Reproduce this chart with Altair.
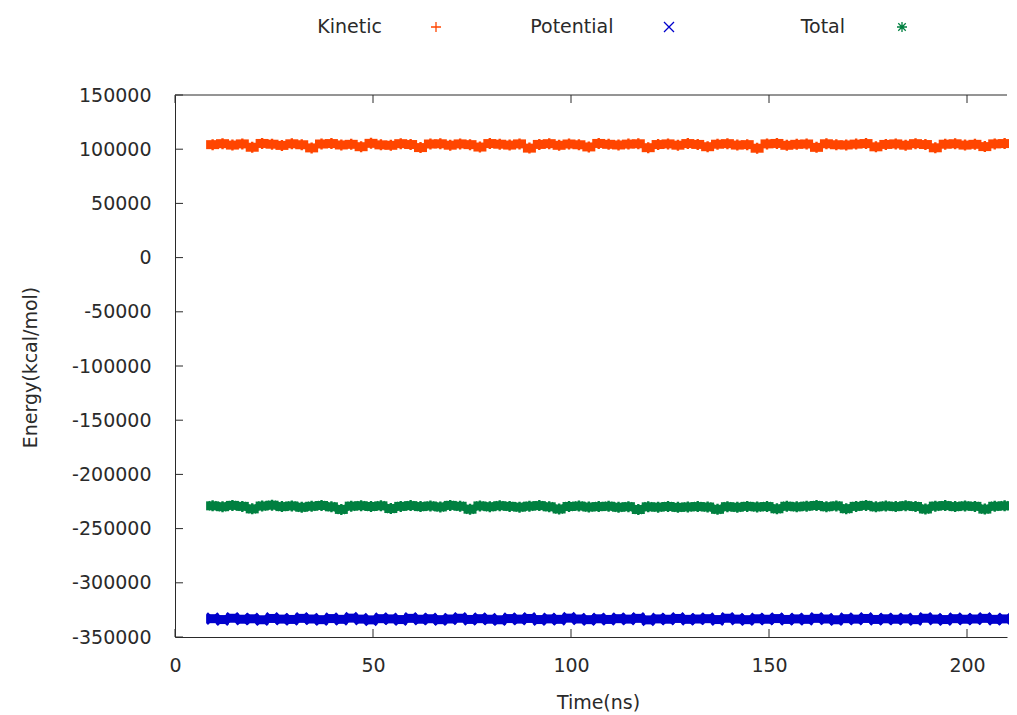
import altair as alt
import pandas as pd

series_names = ["Kinetic", "Potential", "Total"]
series_colors = ["#ff4500", "#0000cc", "#008040"]
plus_path = "M-1,0L1,0M0,-1L0,1"
cross_path = "M-1,-1L1,1M-1,1L1,-1"
star_path = "M-1,0L1,0M0,-1L0,1M-0.75,-0.75L0.75,0.75M-0.75,0.75L0.75,-0.75"

time_ns = [9.5, 12, 14.5, 17, 19.5, 22, 24.5, 27, 29.5, 32, 34.5, 37, 39.5, 42, 44.5, 47, 49.5,
           52, 54.5, 57, 59.5, 62, 64.5, 67, 69.5, 72, 74.5, 77, 79.5, 82, 84.5, 87, 89.5, 92,
           94.5, 97, 99.5, 102, 104.5, 107, 109.5, 112, 114.5, 117, 119.5, 122, 124.5, 127,
           129.5, 132, 134.5, 137, 139.5, 142, 144.5, 147, 149.5, 152, 154.5, 157, 159.5, 162,
           164.5, 167, 169.5, 172, 174.5, 177, 179.5, 182, 184.5, 187, 189.5, 192, 194.5, 197,
           199.5, 202, 204.5, 207, 209.5]

kinetic = [104200, 105100, 103800, 104900, 101800, 105300, 104600, 103500, 105000, 104100,
           101200, 104800, 105200, 103900, 104500, 102300, 105400, 104000, 103600, 105100,
           104300, 101500, 104700, 105000, 103700, 104900, 104200, 102000, 105200, 104600,
           103800, 104900, 101000, 104400, 105100, 103600, 104800, 104100, 102100, 105300,
           104500, 103900, 104700, 105000, 101400, 104300, 104900, 103700, 105200, 104400,
           102300, 104600, 105100, 103800, 104200, 100900, 104900, 105300, 103600, 104500,
           104800, 101700, 105000, 104100, 103900, 104700, 105200, 102200, 104400, 104900,
           103700, 105100, 104300, 101300, 104600, 105000, 103800, 104500, 102400, 104900, 105200]

potential = [-333100, -333900, -332700, -333600, -333200, -334100, -332900, -333500, -333800, -332800,
             -333400, -334000, -333000, -333700, -332600, -333500, -334200, -333100, -333300, -333900,
             -332800, -333600, -333200, -334000, -333400, -332700, -333800, -333100, -333600, -334100,
             -333000, -333500, -332900, -333900, -333300, -333700, -332600, -333400, -334000, -333200,
             -333800, -333100, -333500, -332800, -334200, -333300, -333600, -332900, -333700, -333400,
             -333100, -333900, -332700, -333500, -334000, -333200, -333600, -333000, -333800, -333300,
             -333700, -332800, -333400, -334100, -333100, -333500, -332900, -333800, -333200, -333600,
             -333300, -334000, -332700, -333500, -333900, -333100, -333600, -333400, -332800, -333700, -333300]

total = [-229000, -229800, -228600, -229500, -231800, -229200, -228400, -229700, -229100, -230300,
         -229400, -228700, -229900, -232300, -229300, -228900, -229600, -229000, -231500, -229500,
         -228800, -229700, -229200, -230000, -228600, -229400, -232100, -229100, -229800, -228900,
         -229500, -230200, -229300, -228800, -229900, -231900, -229600, -229200, -230100, -229700,
         -229400, -230300, -229800, -232400, -229900, -230200, -229600, -230400, -230000, -229700,
         -230100, -232200, -229800, -230300, -229500, -230000, -229700, -231700, -229400, -229900,
         -229300, -228700, -229800, -229100, -231600, -229500, -228600, -229900, -229200, -229700,
         -228900, -229600, -231900, -229300, -228800, -229700, -229100, -229500, -232000, -229400, -229000]

x_ticks = [0, 50, 100, 150, 200]
y_ticks = [150000, 100000, 50000, 0, -50000, -100000, -150000, -200000, -250000, -300000, -350000]

W = 832
H = 542
XMAX = W / 3.96
FONT = "DejaVu Sans"
FS = 19
INK = "#2a2a2a"

rows = []
for name, vals in zip(series_names, [kinetic, potential, total]):
    for t, v in zip(time_ns, vals):
        rows.append({"time": t, "energy": v, "series": name})
df = pd.DataFrame(rows)

xscale = alt.Scale(domain=[0, XMAX], nice=False, zero=False)
yscale = alt.Scale(domain=[-350000, 150000], nice=False)
cscale = alt.Scale(domain=series_names, range=series_colors)
sscale = alt.Scale(domain=series_names, range=[plus_path, cross_path, star_path])

x_axis = alt.Axis(values=x_ticks, ticks=False, grid=False, domain=True, domainColor=INK,
                  domainWidth=1, labelFont=FONT, labelFontSize=FS, labelColor=INK,
                  labelPadding=19, labelFlush=False, labelOverlap=False,
                  title="Time(ns)", titleFont=FONT, titleFontSize=FS, titleFontWeight="normal",
                  titleColor=INK, titleX=423, titleY=65, titleBaseline="middle", titleAlign="center")
y_axis = alt.Axis(values=y_ticks, ticks=False, grid=False, domain=True, domainColor=INK,
                  domainWidth=1, labelFont=FONT, labelFontSize=FS, labelColor=INK,
                  labelPadding=24, labelFlush=False, labelOverlap=False,
                  labelExpr="'' + datum.value",
                  title="Energy(kcal/mol)", titleFont=FONT, titleFontSize=FS,
                  titleFontWeight="normal", titleColor=INK, titleX=-145, titleY=H / 2 + 1,
                  titleAngle=270, titleBaseline="middle", titleAlign="center")

X = alt.X("time:Q", scale=xscale, axis=x_axis)
Y = alt.Y("energy:Q", scale=yscale, axis=y_axis)
C = alt.Color("series:N", scale=cscale, legend=None)

base = alt.Chart(df)
bands = base.mark_tick(orient="horizontal", size=13, thickness=9, opacity=1).encode(
    x=X, y=Y, color=C)
points = base.mark_point(filled=False, size=121, strokeWidth=2.4, opacity=1).encode(
    x=X, y=Y, color=C,
    shape=alt.Shape("series:N", scale=sscale, legend=None),
)

xt_df = pd.DataFrame({"time": x_ticks})
yt_df = pd.DataFrame({"energy": y_ticks})
left_ticks = alt.Chart(yt_df).mark_rule(color=INK, strokeWidth=1).encode(
    y=Y, x=alt.value(0), x2=alt.value(8))
bottom_ticks = alt.Chart(xt_df).mark_rule(color=INK, strokeWidth=1).encode(
    x=X, y=alt.value(H), y2=alt.value(H - 8))
top_ticks = alt.Chart(xt_df).mark_rule(color=INK, strokeWidth=1).encode(
    x=X, y=alt.value(0), y2=alt.value(8))
top_border = alt.Chart(pd.DataFrame({"edge": ["top"]})).mark_rule(color=INK, strokeWidth=1).encode(
    x=alt.value(0), x2=alt.value(W), y=alt.value(0))

leg_df = pd.DataFrame({"series": series_names})
leg_text = alt.Chart(leg_df).mark_text(align="right", baseline="middle", font=FONT,
                                       fontSize=FS, color=INK).encode(
    x=alt.X("series:N", scale=alt.Scale(type="point", domain=series_names, range=[207, 670],
                                         padding=0), axis=None),
    y=alt.value(-68),
    text="series:N",
)
leg_sym = alt.Chart(leg_df).mark_point(filled=False, size=100, strokeWidth=1.3, opacity=1).encode(
    x=alt.X("series:N", scale=alt.Scale(type="point", domain=series_names, range=[261, 727],
                                         padding=0), axis=None),
    y=alt.value(-68),
    color=C,
    shape=alt.Shape("series:N", scale=sscale, legend=None),
)

data_layer = alt.layer(points, bands, left_ticks, bottom_ticks, top_ticks, top_border)
chart = alt.layer(data_layer, leg_text, leg_sym).resolve_scale(x="independent").properties(
    width=W, height=H, autosize=alt.AutoSizeParams(type="none"),
    padding={"left": 167, "top": 87, "right": 2, "bottom": 78},
    background="white",
).configure_view(stroke=None)

chart.save("out.html", embed_options={"renderer": "svg", "actions": False})
